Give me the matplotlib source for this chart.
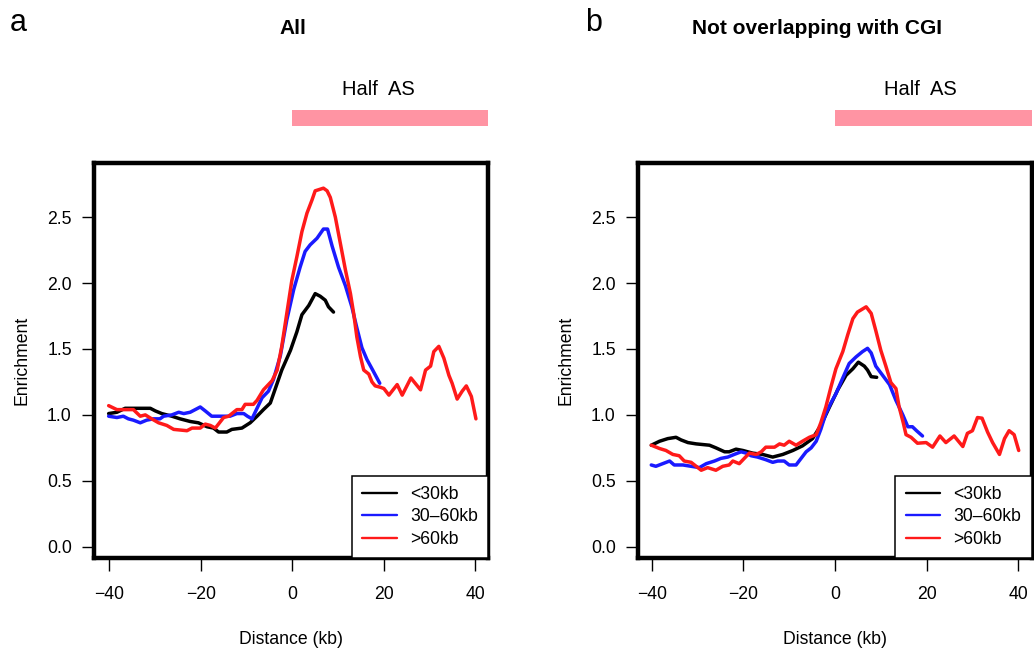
import matplotlib
matplotlib.use("Agg")
import matplotlib.pyplot as plt
from matplotlib.patches import Rectangle

plt.rcParams['font.family'] = ['Liberation Sans', 'DejaVu Sans']

# ---- data: enrichment profiles around the boundary (distance in kb) ----
# Panel a: all regions
a_red_x = [-40.1, -38.3, -34.7, -33.2, -32.1, -30.7, -29.2, -27.4, -25.9, -23.0,
           -21.9, -20.1, -19.0, -17.9, -16.8, -15.0, -13.9, -12.1, -11.0, -10.3,
           -8.5, -7.7, -6.3, -4.4, -3.3, -2.3, -1.2, -0.1, 1.0, 2.1,
           3.2, 4.3, 5.0, 6.8, 7.6, 8.3, 9.4, 10.5, 11.6, 12.7,
           13.4, 14.1, 14.9, 15.6, 16.7, 17.4, 18.1, 19.2, 20.0, 21.1,
           22.9, 24.0, 25.9, 28.0, 29.1, 30.2, 30.9, 32.0, 33.1, 34.2,
           34.9, 36.0, 37.1, 38.0, 39.1, 40.1]
a_red_y = [1.07, 1.04, 1.04, 0.99, 1.00, 0.97, 0.94, 0.92, 0.89, 0.88,
           0.90, 0.90, 0.93, 0.92, 0.90, 0.98, 0.99, 1.04, 1.04, 1.08,
           1.08, 1.11, 1.19, 1.26, 1.34, 1.52, 1.77, 2.02, 2.20, 2.39,
           2.53, 2.63, 2.70, 2.72, 2.70, 2.65, 2.50, 2.30, 2.10, 1.92,
           1.77, 1.59, 1.44, 1.34, 1.31, 1.25, 1.22, 1.21, 1.20, 1.15,
           1.23, 1.15, 1.28, 1.19, 1.34, 1.37, 1.48, 1.52, 1.43, 1.30,
           1.24, 1.12, 1.18, 1.22, 1.14, 0.97]

a_blue_x = [-40.1, -38.3, -36.9, -35.8, -34.7, -33.2, -31.8, -30.3, -28.9, -28.1,
            -26.3, -24.8, -23.7, -22.3, -21.2, -20.1, -19.0, -17.6, -15.0, -13.6,
            -12.1, -10.6, -9.8, -8.8, -7.7, -6.6, -5.2, -4.1, -2.6, -1.2,
            0.3, 1.7, 2.8, 3.9, 5.4, 6.8, 7.7, 8.7, 10.1, 11.6,
            13.0, 14.1, 15.2, 16.3, 17.4, 19.1]
a_blue_y = [0.99, 0.98, 0.99, 0.97, 0.96, 0.94, 0.96, 0.97, 0.97, 0.99,
            1.00, 1.02, 1.01, 1.02, 1.04, 1.06, 1.03, 0.99, 0.99, 0.99,
            1.01, 1.01, 0.99, 0.97, 1.05, 1.13, 1.18, 1.27, 1.45, 1.72,
            1.95, 2.12, 2.24, 2.29, 2.34, 2.41, 2.41, 2.28, 2.12, 1.98,
            1.82, 1.66, 1.51, 1.42, 1.35, 1.24]

a_black_x = [-40.1, -38.3, -36.5, -34.7, -32.5, -31.0, -29.9, -28.5, -26.3, -24.5,
             -22.3, -20.5, -18.6, -17.2, -16.1, -14.3, -13.2, -11.0, -9.2, -7.7,
             -6.3, -4.8, -3.7, -2.3, -0.4, 1.0, 2.1, 3.6, 5.0, 6.1,
             7.2, 7.9, 9.0]
a_black_y = [1.01, 1.02, 1.05, 1.05, 1.05, 1.05, 1.03, 1.01, 0.99, 0.97,
             0.95, 0.94, 0.91, 0.90, 0.87, 0.87, 0.89, 0.90, 0.94, 0.99,
             1.04, 1.09, 1.20, 1.34, 1.49, 1.63, 1.76, 1.83, 1.92, 1.90,
             1.87, 1.82, 1.78]

# Panel b: regions not overlapping with CGI
b_red_x = [-40.1, -38.3, -36.9, -35.4, -34.0, -32.9, -31.4, -30.3, -29.2, -27.8,
           -26.0, -24.5, -23.1, -22.3, -20.9, -19.8, -18.7, -17.2, -16.1, -15.1,
           -13.2, -12.1, -11.1, -10.0, -8.5, -7.1, -5.6, -4.1, -3.1, -2.0,
           -0.9, 0.2, 1.7, 2.8, 3.9, 4.9, 6.8, 7.9, 8.9, 10.0,
           11.1, 12.2, 13.3, 14.0, 14.9, 15.5, 16.6, 18.0, 19.9, 21.3,
           22.9, 24.2, 26.0, 27.9, 28.9, 30.0, 31.1, 32.1, 33.3, 34.4,
           35.9, 37.0, 38.0, 39.1, 40.1]
b_red_y = [0.77, 0.745, 0.73, 0.70, 0.69, 0.65, 0.64, 0.61, 0.58, 0.60,
           0.58, 0.61, 0.62, 0.65, 0.63, 0.67, 0.71, 0.70, 0.72, 0.755,
           0.755, 0.78, 0.77, 0.80, 0.77, 0.80, 0.83, 0.85, 0.94, 1.06,
           1.21, 1.35, 1.48, 1.61, 1.73, 1.78, 1.82, 1.77, 1.64, 1.49,
           1.37, 1.245, 1.20, 1.06, 0.94, 0.85, 0.83, 0.785, 0.79, 0.755,
           0.84, 0.79, 0.84, 0.76, 0.86, 0.88, 0.98, 0.975, 0.87, 0.79,
           0.70, 0.82, 0.88, 0.85, 0.73]

b_blue_x = [-40.1, -39.1, -37.6, -36.1, -35.1, -33.2, -31.4, -29.6, -28.1, -26.3,
            -24.9, -23.4, -22.0, -20.5, -19.4, -18.3, -16.9, -15.1, -13.6, -12.5,
            -11.1, -10.0, -8.5, -7.4, -6.3, -5.2, -4.1, -3.1, -2.0, -0.9,
            0.2, 1.7, 3.1, 4.6, 6.0, 7.1, 7.9, 8.9, 10.4, 11.9,
            13.3, 14.8, 15.9, 16.9, 17.8, 19.1]
b_blue_y = [0.62, 0.61, 0.63, 0.65, 0.62, 0.62, 0.61, 0.60, 0.63, 0.65,
            0.67, 0.68, 0.70, 0.72, 0.71, 0.69, 0.68, 0.66, 0.64, 0.65,
            0.65, 0.62, 0.62, 0.67, 0.72, 0.75, 0.80, 0.89, 1.01, 1.09,
            1.16, 1.28, 1.39, 1.44, 1.48, 1.505, 1.47, 1.37, 1.30, 1.23,
            1.11, 1.00, 0.91, 0.91, 0.88, 0.84]

b_black_x = [-40.1, -38.3, -36.5, -34.7, -33.6, -32.1, -30.3, -27.4, -26.0, -24.1,
             -23.1, -21.6, -20.1, -18.0, -15.8, -13.6, -11.4, -9.2, -7.1, -4.9,
             -3.1, -1.2, 0.6, 2.4, 3.9, 5.1, 6.4, 7.1, 7.9, 9.1]
b_black_y = [0.77, 0.80, 0.82, 0.83, 0.81, 0.79, 0.78, 0.77, 0.75, 0.72,
             0.72, 0.74, 0.73, 0.71, 0.70, 0.68, 0.70, 0.73, 0.765, 0.82,
             0.92, 1.06, 1.19, 1.30, 1.35, 1.40, 1.37, 1.34, 1.29, 1.285]

series_labels = ["<30kb", "30\u201360kb", ">60kb"]
series_colors = ["#000000", "#1a1aff", "#ff1a1a"]
x_ticks = [-40, -20, 0, 20, 40]
y_ticks = [0.0, 0.5, 1.0, 1.5, 2.0, 2.5]
half_as_start = 0.0

panels = [
    dict(letter="a", title="All",
         rect=[94 / 1034, 1 - 558.3 / 648, 394.3 / 1034, 395.3 / 648],
         xlim=(-43.3, 42.8), title_x=293 / 1034, letter_x=18 / 1034,
         data=[(a_black_x, a_black_y), (a_blue_x, a_blue_y), (a_red_x, a_red_y)]),
    dict(letter="b", title="Not overlapping with CGI",
         rect=[638 / 1034, 1 - 558.3 / 648, 394 / 1034, 395.3 / 648],
         xlim=(-43.0, 43.0), title_x=817 / 1034, letter_x=594 / 1034,
         data=[(b_black_x, b_black_y), (b_blue_x, b_blue_y), (b_red_x, b_red_y)]),
]

fig = plt.figure(figsize=(10.34, 6.48), dpi=100)
fs = 12.7

for p in panels:
    ax = fig.add_axes(p["rect"])
    # black, then blue, then red on top
    handles = []
    for i, (xs, ys) in enumerate(p["data"]):
        (ln,) = ax.plot(xs, ys, color=series_colors[i], lw=2.5,
                        solid_joinstyle="round", solid_capstyle="round",
                        label=series_labels[i])
        handles.append(ln)
    ax.set_xlim(*p["xlim"])
    ax.set_ylim(-0.088, 2.911)
    ax.set_xticks(x_ticks)
    ax.set_xticklabels([f"{t:d}".replace("-", "\u2212") for t in x_ticks])
    ax.set_yticks(y_ticks)
    ax.set_yticklabels([f"{t:.1f}" for t in y_ticks])
    ax.tick_params(direction="out", length=9, width=1.0, labelsize=fs)
    ax.tick_params(axis="x", pad=11)
    ax.tick_params(axis="y", pad=7)
    for s in ax.spines.values():
        s.set_linewidth(3.2)
    ax.set_xlabel("Distance (kb)", fontsize=fs, labelpad=20)
    ax.set_ylabel("Enrichment", fontsize=fs, labelpad=12)

    leg = ax.legend(handles, series_labels,
                    loc="lower right", bbox_to_anchor=(1.0, 0.0),
                    borderaxespad=0.0, fontsize=fs, frameon=True,
                    fancybox=False, edgecolor="black", framealpha=1,
                    handlelength=1.95, handletextpad=0.75, borderpad=0.6,
                    labelspacing=0.3)
    leg.get_frame().set_linewidth(1.1)
    for lh in leg.get_lines():
        lh.set_linewidth(1.7)

    # "Half AS" bar above the plot, from the boundary to the right edge
    right = p["xlim"][1]
    ax.add_patch(Rectangle((half_as_start, 3.19), right - half_as_start, 0.12,
                           facecolor="#ff94a3", edgecolor="none", clip_on=False))
    ax.text(18.7, 3.47, "Half  AS", ha="center", va="center", fontsize=14.5,
            clip_on=False)

    fig.text(p["title_x"], 1 - 29 / 648, p["title"], ha="center", va="center",
             fontsize=15, fontweight="bold")
    fig.text(p["letter_x"], 1 - 23 / 648, p["letter"], ha="center", va="center",
             fontsize=22)

fig.savefig("out.png", dpi=100)
